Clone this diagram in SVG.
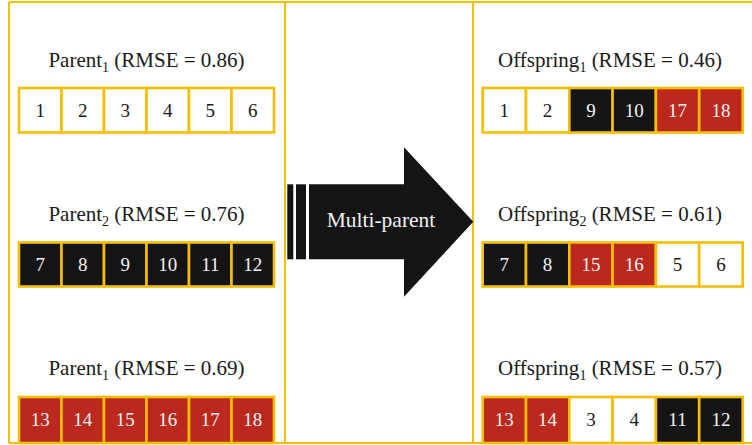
<svg xmlns="http://www.w3.org/2000/svg" width="752" height="445" viewBox="0 0 752 445">
<style>
.frame{stroke:#F5BE00;stroke-width:2;fill:none}
.cell{stroke:#F5BE00;stroke-width:2.6}
.w{fill:#FFFFFF}
.k{fill:#141414}
.r{fill:#BB291E}
.lbl{font-family:"Liberation Serif",serif;font-size:21px;fill:#1a1a1a;text-anchor:middle}
.num{font-family:"Liberation Serif",serif;font-size:19px;text-anchor:middle}
.tw{fill:#F2F2F2}
.tk{fill:#1a1a1a}
</style>
<rect width="752" height="445" fill="#FFFFFF"/>
<g id="frame">
<line class="frame" x1="9" y1="2" x2="752" y2="2"/>
<line class="frame" x1="9" y1="443" x2="752" y2="443"/>
<line class="frame" x1="9" y1="2" x2="9" y2="443"/>
<line class="frame" x1="285" y1="2" x2="285" y2="443"/>
<line class="frame" x1="473" y1="2" x2="473" y2="443"/>
</g>
<g id="parent1a">
<text class="lbl" x="146.5" y="67">Parent<tspan font-size="14" dy="5">1</tspan><tspan dy="-5"> (RMSE = 0.86)</tspan></text>
<rect class="cell w" x="19" y="88" width="42.5" height="44.5"/>
<rect class="cell w" x="61.5" y="88" width="42.5" height="44.5"/>
<rect class="cell w" x="104" y="88" width="42.5" height="44.5"/>
<rect class="cell w" x="146.5" y="88" width="42.5" height="44.5"/>
<rect class="cell w" x="189" y="88" width="42.5" height="44.5"/>
<rect class="cell w" x="231.5" y="88" width="42.5" height="44.5"/>
<text class="num tk" x="40.3" y="117">1</text>
<text class="num tk" x="82.8" y="117">2</text>
<text class="num tk" x="125.3" y="117">3</text>
<text class="num tk" x="167.8" y="117">4</text>
<text class="num tk" x="210.3" y="117">5</text>
<text class="num tk" x="252.8" y="117">6</text>
</g>
<g id="parent2">
<text class="lbl" x="146.5" y="221">Parent<tspan font-size="14" dy="5">2</tspan><tspan dy="-5"> (RMSE = 0.76)</tspan></text>
<rect class="cell k" x="19" y="242.5" width="42.5" height="44"/>
<rect class="cell k" x="61.5" y="242.5" width="42.5" height="44"/>
<rect class="cell k" x="104" y="242.5" width="42.5" height="44"/>
<rect class="cell k" x="146.5" y="242.5" width="42.5" height="44"/>
<rect class="cell k" x="189" y="242.5" width="42.5" height="44"/>
<rect class="cell k" x="231.5" y="242.5" width="42.5" height="44"/>
<text class="num tw" x="40.3" y="271">7</text>
<text class="num tw" x="82.8" y="271">8</text>
<text class="num tw" x="125.3" y="271">9</text>
<text class="num tw" x="167.8" y="271">10</text>
<text class="num tw" x="210.3" y="271">11</text>
<text class="num tw" x="252.8" y="271">12</text>
</g>
<g id="parent1b">
<text class="lbl" x="146.5" y="375">Parent<tspan font-size="14" dy="5">1</tspan><tspan dy="-5"> (RMSE = 0.69)</tspan></text>
<rect class="cell r" x="19" y="397" width="42.5" height="46"/>
<rect class="cell r" x="61.5" y="397" width="42.5" height="46"/>
<rect class="cell r" x="104" y="397" width="42.5" height="46"/>
<rect class="cell r" x="146.5" y="397" width="42.5" height="46"/>
<rect class="cell r" x="189" y="397" width="42.5" height="46"/>
<rect class="cell r" x="231.5" y="397" width="42.5" height="46"/>
<text class="num tw" x="40.3" y="426">13</text>
<text class="num tw" x="82.8" y="426">14</text>
<text class="num tw" x="125.3" y="426">15</text>
<text class="num tw" x="167.8" y="426">16</text>
<text class="num tw" x="210.3" y="426">17</text>
<text class="num tw" x="252.8" y="426">18</text>
</g>
<g id="arrow">
<rect x="287.3" y="184.3" width="6" height="75" fill="#141414"/>
<rect x="296" y="184.3" width="10" height="75" fill="#141414"/>
<polygon points="309,184.3 404,184.3 404,147.3 473.3,221.8 404,296.7 404,259.3 309,259.3" fill="#141414"/>
<text x="381" y="227" font-family="Liberation Serif,serif" font-size="21.5" fill="#F2F2F2" text-anchor="middle">Multi-parent</text>
</g>
<g id="offspring1a">
<text class="lbl" x="610" y="67">Offspring<tspan font-size="14" dy="5">1</tspan><tspan dy="-5"> (RMSE = 0.46)</tspan></text>
<rect class="cell w" x="482.7" y="88" width="43.3" height="44.5"/>
<rect class="cell w" x="526" y="88" width="43.3" height="44.5"/>
<rect class="cell k" x="569.3" y="88" width="43.3" height="44.5"/>
<rect class="cell k" x="612.6" y="88" width="43.3" height="44.5"/>
<rect class="cell r" x="655.9" y="88" width="43.3" height="44.5"/>
<rect class="cell r" x="699.2" y="88" width="43.5" height="44.5"/>
<text class="num tk" x="504.3" y="117">1</text>
<text class="num tk" x="547.6" y="117">2</text>
<text class="num tw" x="590.9" y="117">9</text>
<text class="num tw" x="634.2" y="117">10</text>
<text class="num tw" x="677.5" y="117">17</text>
<text class="num tw" x="720.9" y="117">18</text>
</g>
<g id="offspring2">
<text class="lbl" x="610" y="221">Offspring<tspan font-size="14" dy="5">2</tspan><tspan dy="-5"> (RMSE = 0.61)</tspan></text>
<rect class="cell k" x="482.7" y="242.5" width="43.3" height="44"/>
<rect class="cell k" x="526" y="242.5" width="43.3" height="44"/>
<rect class="cell r" x="569.3" y="242.5" width="43.3" height="44"/>
<rect class="cell r" x="612.6" y="242.5" width="43.3" height="44"/>
<rect class="cell w" x="655.9" y="242.5" width="43.3" height="44"/>
<rect class="cell w" x="699.2" y="242.5" width="43.5" height="44"/>
<text class="num tw" x="504.3" y="271">7</text>
<text class="num tw" x="547.6" y="271">8</text>
<text class="num tw" x="590.9" y="271">15</text>
<text class="num tw" x="634.2" y="271">16</text>
<text class="num tk" x="677.5" y="271">5</text>
<text class="num tk" x="720.9" y="271">6</text>
</g>
<g id="offspring1b">
<text class="lbl" x="610" y="375">Offspring<tspan font-size="14" dy="5">1</tspan><tspan dy="-5"> (RMSE = 0.57)</tspan></text>
<rect class="cell r" x="482.7" y="397" width="43.3" height="46"/>
<rect class="cell r" x="526" y="397" width="43.3" height="46"/>
<rect class="cell w" x="569.3" y="397" width="43.3" height="46"/>
<rect class="cell w" x="612.6" y="397" width="43.3" height="46"/>
<rect class="cell k" x="655.9" y="397" width="43.3" height="46"/>
<rect class="cell k" x="699.2" y="397" width="43.5" height="46"/>
<text class="num tw" x="504.3" y="426">13</text>
<text class="num tw" x="547.6" y="426">14</text>
<text class="num tk" x="590.9" y="426">3</text>
<text class="num tk" x="634.2" y="426">4</text>
<text class="num tw" x="677.5" y="426">11</text>
<text class="num tw" x="720.9" y="426">12</text>
</g>
</svg>
